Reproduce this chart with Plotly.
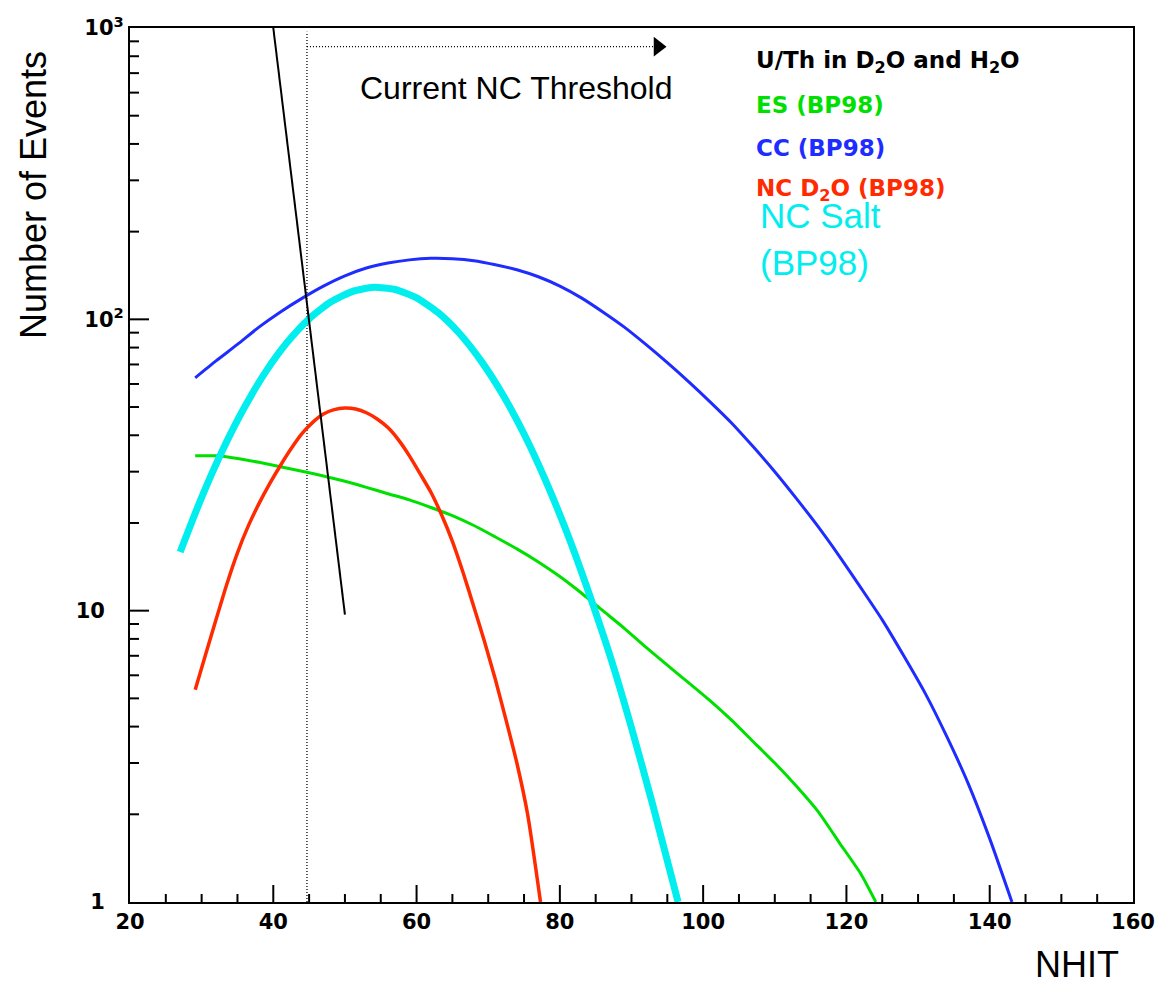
import plotly.graph_objects as go

# ---------------- data ----------------
x_tick_vals = [20, 40, 60, 80, 100, 120, 140, 160]
x_minor_vals = [25, 30, 35, 45, 50, 55, 65, 70, 75, 85, 90, 95, 105, 110, 115,
                125, 130, 135, 145, 150, 155]
y_tick_vals = [1, 10, 100, 1000]
y_tick_text = ["1\u00a0\u00a0\u2009", "10\u00a0\u00a0\u2009", "10<sup>2</sup>", "10<sup>3</sup>"]
y_minor_vals = [2, 3, 4, 5, 6, 7, 8, 9, 20, 30, 40, 50, 60, 70, 80, 90,
                200, 300, 400, 500, 600, 700, 800, 900]

# U/Th background in D2O and H2O
uth_x = [40, 41, 42, 43, 44, 45, 46, 47, 48, 49, 50]
uth_y = [1000, 630, 395, 249, 156, 98, 62, 39, 24.5, 15.4, 9.7]

# ES (BP98)
es_x = [29.1, 32, 35, 38, 41, 44, 47, 50, 53, 56, 59, 62, 65, 68, 71, 74, 77,
        80, 83, 86, 89, 92, 95, 98, 101, 104, 107, 110, 113, 116, 119, 122, 124.1]
es_y = [34, 34, 33.3, 32.3, 31.2, 30.1, 29, 27.8, 26.5, 25.2, 24, 22.6, 21.2,
        19.6, 17.9, 16.3, 14.7, 13.1, 11.5, 10.0, 8.7, 7.5, 6.5, 5.65, 4.9, 4.2,
        3.55, 3.0, 2.5, 2.05, 1.6, 1.25, 1.0]

# CC (BP98)
cc_x = [29.1, 32, 35, 38, 41, 44, 47, 50, 53, 56, 59, 62, 65, 68, 71, 74, 77,
        80, 83, 86, 89, 92, 95, 98, 101, 104, 107, 110, 113, 116, 119, 122, 125,
        128, 131, 134, 137, 140, 143.1]
cc_y = [63, 72, 82, 94, 106, 118, 130, 141, 150, 156, 160, 162, 161.5, 159, 154,
        148, 140, 130, 118.5, 106, 94, 82, 71, 61, 52, 44, 36.5, 30, 24.3, 19.5, 15.4,
        12, 9.3, 7.0, 5.2, 3.7, 2.55, 1.65, 1.0]

# NC D2O (BP98)
ncd2o_x = [29.1, 30.5, 32, 33.5, 35, 36.5, 38, 39.5, 41, 42.5, 44, 45.5, 47,
           48.5, 50, 51.5, 53, 54.5, 56, 57.5, 59, 60.5, 62, 63.5, 65, 66.5, 68,
           69.5, 71, 72.5, 74, 75.5, 77.3]
ncd2o_y = [5.35, 7.0, 9.3, 12.3, 15.8, 19.5, 23.3, 27.3, 31.5, 36, 40.5, 44.3,
           47.3, 49, 49.6, 49.2, 47.8, 45.5, 42.5, 38.5, 34, 29.5, 25.5, 21.3,
           17.3, 13.5, 10.3, 7.8, 5.8, 4.2, 3.0, 2.0, 1.0]

# NC Salt (BP98)
ncsalt_x = [27, 30, 33, 36, 39, 42, 45, 48, 51, 54, 57, 60, 63, 66, 69, 72,
            75, 78, 81, 84, 87, 90, 93, 96.5]
ncsalt_y = [15.9, 24.5, 35.9, 50, 66.4, 83.7, 100.4, 114.6, 124.5, 128.8, 126.6,
            118.5, 105.5, 89.4, 72, 55.3, 40.4, 28, 18.5, 11.6, 7.0, 3.96, 2.14, 1.0]

# current NC threshold marker
threshold_x = 44.7
threshold_top = 970
threshold_arrow_y = 863
threshold_arrow_end = 93.1
threshold_arrow_head = 93.7

# ---------------- figure ----------------
W, H = 1176, 985
L, R, T, B = 130, 1133, 28, 902
X_RANGE = (20, 160)
Y_DECADES = (0, 3)
X_PER_PX = (X_RANGE[1] - X_RANGE[0]) / (R - L)
DEC_PER_PX = (Y_DECADES[1] - Y_DECADES[0]) / (B - T)


def px(xp):
    return (xp - L) / (R - L)


def py(yp):
    return (B - yp) / (B - T)


fig = go.Figure()

dot = dict(color="black", width=1.3, dash="1px,2px")
fig.add_trace(go.Scatter(x=[threshold_x, threshold_x], y=[1, threshold_top], mode="lines",
                         line=dot, showlegend=False, hoverinfo="skip"))
fig.add_trace(go.Scatter(x=[threshold_x, threshold_arrow_end],
                         y=[threshold_arrow_y, threshold_arrow_y], mode="lines",
                         line=dot, showlegend=False, hoverinfo="skip"))
fig.add_trace(go.Scatter(x=[threshold_arrow_head], y=[threshold_arrow_y], mode="markers",
                         marker=dict(symbol="triangle-right", size=17, color="black"),
                         showlegend=False, hoverinfo="skip"))


# inside tick marks (ROOT style), built from the tick arrays
def x_tick_segments(vals, length_px):
    top = 10 ** (Y_DECADES[0] + length_px * DEC_PER_PX)
    xs, ys = [], []
    for v in vals:
        if X_RANGE[0] < v < X_RANGE[1]:
            xs += [v, v, None]
            ys += [10 ** Y_DECADES[0], top, None]
    return xs, ys


def y_tick_segments(vals, length_px):
    xs, ys = [], []
    for v in vals:
        if 10 ** Y_DECADES[0] < v < 10 ** Y_DECADES[1]:
            xs += [X_RANGE[0], X_RANGE[0] + length_px * X_PER_PX, None]
            ys += [v, v, None]
    return xs, ys


for seg in (x_tick_segments(x_tick_vals, 17), x_tick_segments(x_minor_vals, 8),
            y_tick_segments(y_tick_vals, 19), y_tick_segments(y_minor_vals, 9)):
    fig.add_trace(go.Scatter(x=seg[0], y=seg[1], mode="lines",
                             line=dict(color="black", width=2),
                             showlegend=False, hoverinfo="skip"))

spl = dict(shape="spline", smoothing=0.6)
fig.add_trace(go.Scatter(x=es_x, y=es_y, mode="lines",
                         line=dict(color="#00e000", width=3, **spl), showlegend=False))
fig.add_trace(go.Scatter(x=cc_x, y=cc_y, mode="lines",
                         line=dict(color="#1f2cff", width=3, **spl), showlegend=False))
fig.add_trace(go.Scatter(x=ncd2o_x, y=ncd2o_y, mode="lines",
                         line=dict(color="#ff2a00", width=3.5, **spl), showlegend=False))
fig.add_trace(go.Scatter(x=ncsalt_x, y=ncsalt_y, mode="lines",
                         line=dict(color="#00eeee", width=7, **spl), showlegend=False))
fig.add_trace(go.Scatter(x=uth_x, y=uth_y, mode="lines",
                         line=dict(color="black", width=2), showlegend=False))

tick_font = dict(family="DejaVu Sans", size=21, color="black", weight="bold")
legend_font = dict(family="DejaVu Sans", size=23, weight="bold")
big_font = dict(family="Liberation Sans, Arial", size=35, color="black")

annotations = [
    dict(text="U/Th in D<sub>2</sub>O and H<sub>2</sub>O", x=px(754), y=py(62), font={**legend_font, "color": "black"}),
    dict(text="ES (BP98)", x=px(754), y=py(105), font={**legend_font, "color": "#00e000"}),
    dict(text="CC (BP98)", x=px(754), y=py(148), font={**legend_font, "color": "#1f2cff"}),
    dict(text="NC D<sub>2</sub>O (BP98)", x=px(754), y=py(190), font={**legend_font, "color": "#ff2a00"}),
    dict(text="NC Salt", x=px(758), y=py(216), font={**big_font, "color": "#00eeee"}),
    dict(text="(BP98)", x=px(758), y=py(262), font={**big_font, "color": "#00eeee"}),
    dict(text="Current NC Threshold", x=px(358), y=py(88), font={**big_font, "size": 32}),
]
for a in annotations:
    fig.add_annotation(xref="paper", yref="paper", xanchor="left", yanchor="middle",
                       showarrow=False, **a)

fig.add_annotation(text="Number of Events", xref="paper", yref="paper", x=px(33), y=py(195),
                   textangle=-90, showarrow=False, xanchor="center", yanchor="middle",
                   font=dict(family="Liberation Sans, Arial", size=36, color="black"))
fig.add_annotation(text="NHIT", xref="paper", yref="paper", x=px(1077), y=py(964),
                   showarrow=False, xanchor="center", yanchor="middle",
                   font=dict(family="Liberation Sans, Arial", size=36, color="black"))

fig.update_layout(
    width=W, height=H,
    margin=dict(l=L, r=W - R, t=T, b=H - B),
    paper_bgcolor="white", plot_bgcolor="white",
    showlegend=False,
    xaxis=dict(range=list(X_RANGE), tickmode="array", tickvals=x_tick_vals,
               ticks="", showline=True, linecolor="black", linewidth=2, mirror=True,
               showgrid=False, zeroline=False, tickfont=tick_font),
    yaxis=dict(type="log", range=list(Y_DECADES), tickmode="array", tickvals=y_tick_vals,
               ticktext=y_tick_text, ticks="",
               showline=True, linecolor="black", linewidth=2, mirror=True,
               showgrid=False, zeroline=False, tickfont=tick_font),
)

fig.write_html("out.html")
